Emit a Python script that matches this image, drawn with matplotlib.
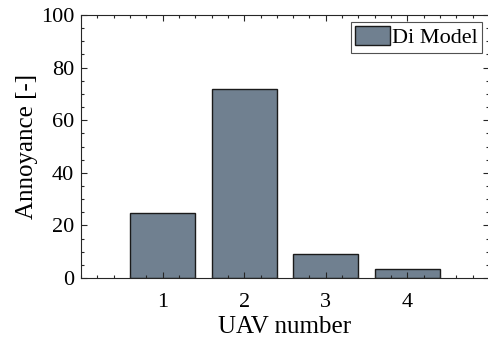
import matplotlib
matplotlib.use("Agg")
import matplotlib.pyplot as plt
from matplotlib.ticker import MultipleLocator

uav = [1, 2, 3, 4]
annoyance = [24.7, 72.0, 9.1, 3.4]
series_name = "Di Model"

plt.rcParams['font.family'] = ['Liberation Serif', 'DejaVu Serif']

fig = plt.figure(figsize=(4.89, 3.39), dpi=100)
ax = fig.add_axes([81/489, 1-278/339, 408/489, (278-15)/339])

ax.bar(uav, annoyance, width=0.8, color='#708090', edgecolor='#1a1a1a', linewidth=1.0, label=series_name, zorder=2)
ax.set_xlim(0, 5)
ax.set_ylim(0, 100)
ax.set_xticks(uav)
ax.set_yticks([0, 20, 40, 60, 80, 100])
ax.xaxis.set_minor_locator(MultipleLocator(0.2))
ax.yaxis.set_minor_locator(MultipleLocator(5))
ax.tick_params(which='both', direction='in', top=True, right=True, color='#262626', labelsize=16, width=0.8, zorder=3)
ax.tick_params(axis='x', which='major', pad=11)
ax.tick_params(axis='y', which='major', pad=5)
ax.tick_params(which='major', length=4)
ax.tick_params(which='minor', length=2)
for s in ax.spines.values():
    s.set_color('#262626')
    s.set_linewidth(0.8)
ax.set_xlabel('UAV number', fontsize=18, labelpad=3)
ax.set_ylabel('Annoyance [-]', fontsize=18, labelpad=2)
ax.set_axisbelow(False)

leg = ax.legend(loc='upper right', fontsize=16, frameon=True, fancybox=False,
                borderpad=0.2, handlelength=1.55, handleheight=0.95, handletextpad=0.1,
                borderaxespad=0.3)
leg.get_frame().set_edgecolor('#262626')
leg.get_frame().set_linewidth(0.8)

fig.savefig('out.png', dpi=100)
